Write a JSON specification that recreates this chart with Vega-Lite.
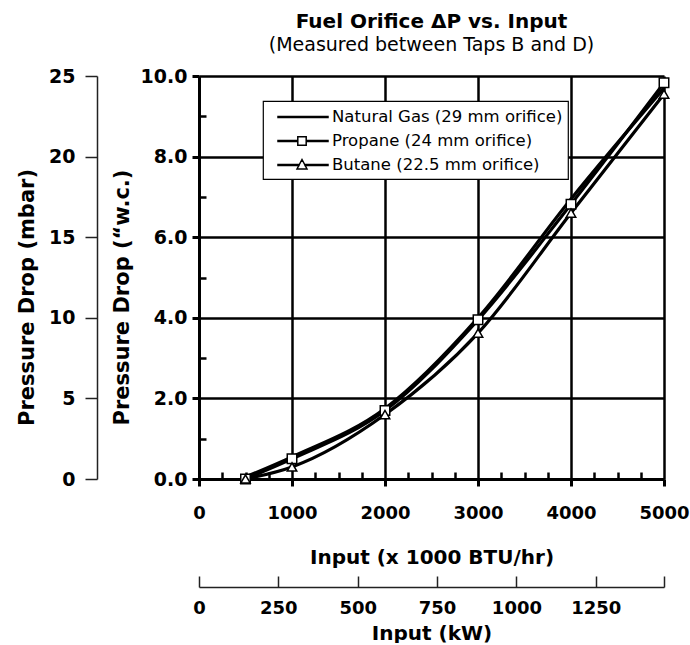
{
  "$schema": "https://vega.github.io/schema/vega-lite/v6.json",
  "width": 465,
  "height": 403,
  "autosize": {"type": "pad"},
  "padding": {"left": 16, "top": 12, "right": 5, "bottom": 0},
  "background": "white",
  "config": {"view": {"stroke": null}, "font": "DejaVu Sans", "legend": {"strokeWidth": 1.2}},
  "title": {
    "text": "Fuel Orifice ΔP vs. Input",
    "subtitle": "(Measured between Taps B and D)",
    "font": "DejaVu Sans",
    "fontSize": 20,
    "fontWeight": "bold",
    "color": "black",
    "subtitleFont": "DejaVu Sans",
    "subtitleFontSize": 19,
    "subtitleColor": "black",
    "subtitlePadding": 4,
    "anchor": "middle",
    "offset": 12
  },
  "data": {
    "values": [
      {"fuel": "Natural Gas (29 mm orifice)", "btu": 500, "dp": 0.05},
      {"fuel": "Natural Gas (29 mm orifice)", "btu": 1000, "dp": 0.55},
      {"fuel": "Natural Gas (29 mm orifice)", "btu": 2000, "dp": 1.75},
      {"fuel": "Natural Gas (29 mm orifice)", "btu": 3000, "dp": 4.0},
      {"fuel": "Natural Gas (29 mm orifice)", "btu": 4000, "dp": 6.95},
      {"fuel": "Natural Gas (29 mm orifice)", "btu": 5000, "dp": 9.7},
      {"fuel": "Propane (24 mm orifice)", "btu": 500, "dp": 0.0},
      {"fuel": "Propane (24 mm orifice)", "btu": 1000, "dp": 0.5},
      {"fuel": "Propane (24 mm orifice)", "btu": 2000, "dp": 1.7},
      {"fuel": "Propane (24 mm orifice)", "btu": 3000, "dp": 3.95},
      {"fuel": "Propane (24 mm orifice)", "btu": 4000, "dp": 6.82},
      {"fuel": "Propane (24 mm orifice)", "btu": 5000, "dp": 9.83},
      {"fuel": "Butane (22.5 mm orifice)", "btu": 500, "dp": 0.0},
      {"fuel": "Butane (22.5 mm orifice)", "btu": 1000, "dp": 0.3},
      {"fuel": "Butane (22.5 mm orifice)", "btu": 2000, "dp": 1.6},
      {"fuel": "Butane (22.5 mm orifice)", "btu": 3000, "dp": 3.62},
      {"fuel": "Butane (22.5 mm orifice)", "btu": 4000, "dp": 6.6},
      {"fuel": "Butane (22.5 mm orifice)", "btu": 5000, "dp": 9.55}
    ]
  },
  "layer": [
    {
      "mark": {"type": "line", "interpolate": "monotone", "color": "black", "strokeWidth": 3.2},
      "encoding": {
        "x": {
          "field": "btu", "type": "quantitative",
          "scale": {"domain": [0, 5000], "nice": false},
          "axis": {
            "orient": "bottom", "values": [0, 1000, 2000, 3000, 4000, 5000], "format": "d",
            "title": "Input (x 1000 BTU/hr)",
            "labelFont": "DejaVu Sans", "labelFontWeight": "bold", "labelFontSize": 18, "labelColor": "black",
            "labelPadding": 18, "labelFlush": false, "labelOverlap": false,
            "tickSize": 7, "tickWidth": 3, "tickColor": "black",
            "domainColor": "black", "domainWidth": 3,
            "grid": true, "gridColor": "black", "gridWidth": 2.5, "gridOpacity": 1,
            "titleFont": "DejaVu Sans", "titleFontSize": 20, "titleFontWeight": "bold", "titleColor": "black",
            "titlePadding": 25
          }
        },
        "y": {
          "field": "dp", "type": "quantitative",
          "scale": {"domain": [0, 10], "nice": false},
          "axis": {
            "orient": "left", "values": [0, 2, 4, 6, 8, 10], "format": ".1f",
            "title": "Pressure Drop (“w.c.)",
            "labelFont": "DejaVu Sans", "labelFontWeight": "bold", "labelFontSize": 19, "labelColor": "black",
            "labelPadding": 5, "labelOverlap": false,
            "tickSize": 7, "tickWidth": 3, "tickColor": "black",
            "domainColor": "black", "domainWidth": 3,
            "grid": true, "gridColor": "black", "gridWidth": 2.5, "gridOpacity": 1,
            "titleFont": "DejaVu Sans", "titleFontSize": 21, "titleFontWeight": "bold", "titleColor": "black",
            "titlePadding": 8, "titleY": 221
          }
        },
        "detail": {"field": "fuel", "type": "nominal"}
      }
    },
    {
      "transform": [{"filter": "datum.fuel != 'Natural Gas (29 mm orifice)'"}],
      "mark": {"type": "point", "filled": true, "fill": "white", "stroke": "black", "strokeWidth": 1.5, "size": 90, "opacity": 1},
      "encoding": {
        "x": {"field": "btu", "type": "quantitative", "scale": {"domain": [0, 5000], "nice": false}, "axis": null},
        "y": {"field": "dp", "type": "quantitative", "scale": {"domain": [0, 10], "nice": false}, "axis": null},
        "shape": {
          "field": "fuel", "type": "nominal",
          "scale": {"domain": ["Propane (24 mm orifice)", "Butane (22.5 mm orifice)"], "range": ["square", "triangle-up"]},
          "legend": null
        }
      }
    },
    {
      "transform": [{"filter": "datum.fuel == 'none'"}],
      "mark": {"type": "point", "filled": false, "stroke": "black", "strokeWidth": 1.5, "size": 400, "opacity": 1},
      "encoding": {
        "shape": {
          "field": "fuel", "type": "nominal",
          "scale": {
            "domain": ["Natural Gas (29 mm orifice)", "Propane (24 mm orifice)", "Butane (22.5 mm orifice)"],
            "range": [
              "M-0.1,-0.06H4.9V0.06H-0.1Z",
              "M-0.1,-0.06H1.88V0.06H-0.1Z M2.72,-0.06H4.9V0.06H2.72Z M1.88,-0.42H2.72V0.42H1.88Z",
              "M-0.1,-0.06H2.0V0.06H-0.1Z M2.6,-0.06H4.9V0.06H2.6Z M2.3,-0.55L2.8,0.4H1.8Z"
            ]
          },
          "legend": {
            "orient": "none", "legendX": 64, "legendY": 25, "title": null,
            "labelFont": "DejaVu Sans", "labelFontSize": 16.5, "labelColor": "black", "labelOffset": 42, "labelLimit": 400,
            "symbolSize": 400, "symbolStrokeWidth": 1.5, "symbolStrokeColor": "black", "symbolOpacity": 1,
            "rowPadding": 4, "padding": 5,
            "strokeColor": "black", "fillColor": "white", "cornerRadius": 0
          }
        }
      }
    },
    {
      "mark": {"type": "point", "opacity": 0},
      "encoding": {
        "x": {
          "field": "btu", "type": "quantitative", "scale": {"domain": [0, 5000], "nice": false},
          "axis": {
            "orient": "bottom",
            "values": [250, 500, 750, 1250, 1500, 1750, 2250, 2500, 2750, 3250, 3500, 3750, 4250, 4500, 4750],
            "tickSize": -7, "tickWidth": 2.5, "tickColor": "black",
            "labels": false, "domain": false, "grid": false, "title": null
          }
        },
        "y": {
          "field": "dp", "type": "quantitative", "scale": {"domain": [0, 10], "nice": false},
          "axis": {
            "orient": "left", "values": [1, 3, 5, 7, 9],
            "tickSize": -7, "tickWidth": 2.5, "tickColor": "black",
            "labels": false, "domain": false, "grid": false, "title": null
          }
        }
      }
    },
    {
      "mark": {"type": "point", "opacity": 0},
      "encoding": {
        "y": {
          "field": "dp", "type": "quantitative", "scale": {"domain": [0, 25], "nice": false},
          "axis": {
            "orient": "left", "offset": 102, "values": [0, 5, 10, 15, 20, 25], "format": "d",
            "title": "Pressure Drop (mbar)",
            "labelFont": "DejaVu Sans", "labelFontWeight": "bold", "labelFontSize": 19, "labelColor": "black",
            "labelPadding": 10, "labelOverlap": false,
            "tickSize": 12, "tickWidth": 1.5, "tickColor": "#222222",
            "domainColor": "#222222", "domainWidth": 1.5, "grid": false,
            "titleFont": "DejaVu Sans", "titleFontSize": 21, "titleFontWeight": "bold", "titleColor": "black",
            "titlePadding": 11, "titleY": 221
          }
        },
        "x": {
          "field": "btu", "type": "quantitative", "scale": {"domain": [0, 1465], "nice": false},
          "axis": {
            "orient": "bottom", "offset": 108, "values": [0, 250, 500, 750, 1000, 1250, 1465], "format": "d",
            "labelExpr": "datum.value > 1400 ? '' : datum.label",
            "title": "Input (kW)",
            "labelFont": "DejaVu Sans", "labelFontWeight": "bold", "labelFontSize": 18, "labelColor": "black",
            "labelPadding": 23, "labelFlush": false, "labelOverlap": false,
            "tickSize": -11, "tickWidth": 1.5, "tickColor": "#222222",
            "domainColor": "#222222", "domainWidth": 1.5, "grid": false,
            "titleFont": "DejaVu Sans", "titleFontSize": 20, "titleFontWeight": "bold", "titleColor": "black",
            "titlePadding": 6
          }
        }
      }
    }
  ],
  "resolve": {
    "scale": {"x": "independent", "y": "independent", "shape": "independent"},
    "axis": {"x": "independent", "y": "independent"},
    "legend": {"shape": "independent"}
  }
}
